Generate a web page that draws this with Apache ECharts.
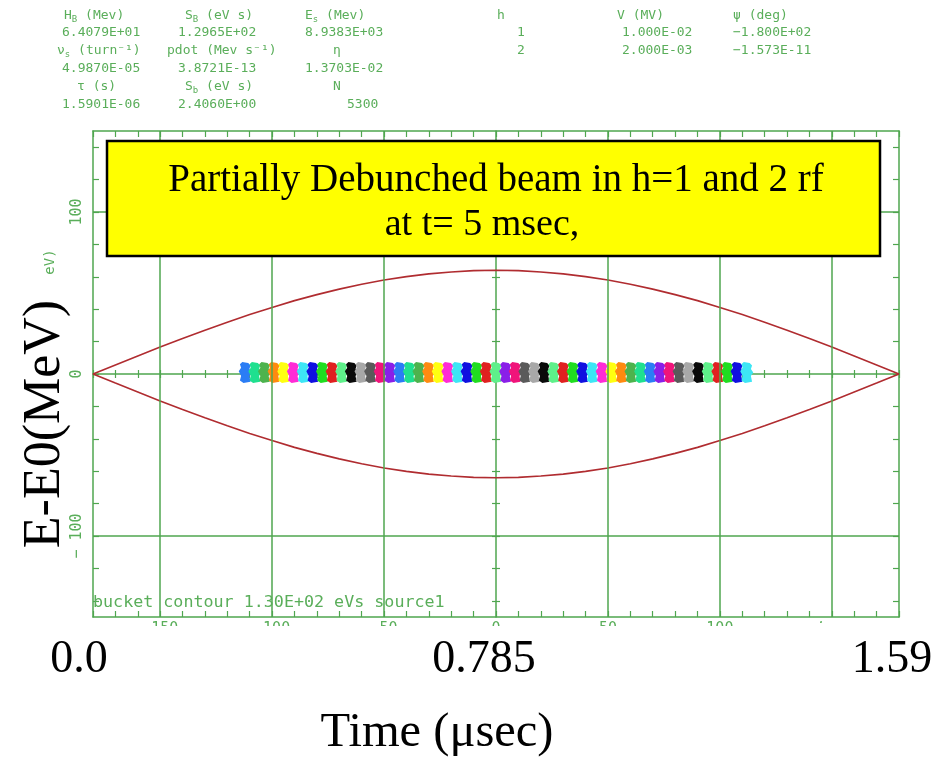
<!DOCTYPE html>
<html>
<head>
<meta charset="utf-8">
<script src="https://cdn.jsdelivr.net/npm/echarts@6/dist/echarts.min.js"></script>
<style>
  html, body { margin: 0; padding: 0; background: #fff; }
  #chart { width: 933px; height: 759px; }
</style>
</head>
<body>
<div id="chart"></div>
<script>
// bucket contour (phase in deg, dE in MeV)
var bucketPhase = [-180, -170, -160, -150, -140, -130, -120, -110, -100, -90, -80, -70, -60, -50, -40, -30, -20, -10, 0,
  10, 20, 30, 40, 50, 60, 70, 80, 90, 100, 110, 120, 130, 140, 150, 160, 170, 180];
var bucketUpper = [0, 5.6, 11.1, 16.6, 21.9, 27, 32, 36.7, 41.1, 45.3, 49, 52.4, 55.4, 58, 60.1, 61.8, 63, 63.8, 64,
  63.8, 63, 61.8, 60.1, 58, 55.4, 52.4, 49, 45.3, 41.1, 36.7, 32, 27, 21.9, 16.6, 11.1, 5.6, 0];
var bucketLower = [0, -5.6, -11.1, -16.6, -21.9, -27, -32, -36.7, -41.1, -45.3, -49, -52.4, -55.4, -58, -60.1, -61.8, -63, -63.8, -64,
  -63.8, -63, -61.8, -60.1, -58, -55.4, -52.4, -49, -45.3, -41.1, -36.7, -32, -27, -21.9, -16.6, -11.1, -5.6, 0];

// beamlet centres along the bunch and their colours
var beamPhase = [-112, -107.7, -103.4, -99.1, -94.8, -90.5, -86.1, -81.8, -77.5, -73.2, -68.9, -64.6, -60.3, -56, -51.7,
  -47.4, -43, -38.7, -34.4, -30.1, -25.8, -21.5, -17.2, -12.9, -8.6, -4.3, 0, 4.3, 8.6, 12.9, 17.2, 21.5, 25.8, 30.1,
  34.4, 38.7, 43, 47.4, 51.7, 56, 60.3, 64.6, 68.9, 73.2, 77.5, 81.8, 86.1, 90.5, 94.8, 99.1, 103.4, 107.7, 112];
var beamDE = 1;
var beamColors = [
  '#2b7df5', '#1fe08f', '#4db34d', '#ff8a10', '#ffff10', '#ff2bd6', '#3de6f5', '#1010e0', '#20dd20', '#e02020',
  '#5ef08a', '#0a0a0a', '#a8a8a8', '#5a5a5a', '#f0147a', '#8a1fe8', '#2b7df5', '#1fe08f', '#4db34d', '#ff8a10',
  '#ffff10', '#ff2bd6', '#3de6f5', '#1010e0', '#20dd20', '#e02020', '#5ef08a',
  '#8a1fe8', '#f0147a', '#5a5a5a', '#a8a8a8', '#0a0a0a', '#5ef08a', '#e02020', '#20dd20', '#1010e0', '#3de6f5',
  '#ff2bd6', '#ffff10', '#ff8a10', '#4db34d', '#1fe08f', '#2b7df5', '#8a1fe8', '#f0147a', '#5a5a5a', '#a8a8a8',
  '#0a0a0a', '#5ef08a', '#e02020', '#20dd20', '#1010e0', '#3de6f5'];

var xLabels = [-150, -100, -50, 0, 50, 100, 150];
var yLabels = [-100, 0, 100];
var yTicks = [-140, -120, -100, -80, -60, -40, -20, 0, 20, 40, 60, 80, 100, 120, 140];
var gridX = [-150, -100, -50, 50, 100, 150];
var gridY = [-100, 100];

var green = '#4fa64f';
var textGreen = '#5aae5a';
var mono = 'DejaVu Sans Mono';
var serif = 'Liberation Serif';

// header table: [x, y, rich text]
var header = [
  [64, 16, 'H{s|B} (Mev)'], [185, 16, 'S{s|B} (eV s)'], [305, 16, 'E{s|s} (Mev)'],
  [62, 33, '6.4079E+01'], [178, 33, '1.2965E+02'], [305, 33, '8.9383E+03'],
  [57, 51, 'ν{s|s} (turn⁻¹)'], [167, 51, 'pdot (Mev s⁻¹)'], [333, 51, 'η'],
  [62, 69, '4.9870E-05'], [178, 69, '3.8721E-13'], [305, 69, '1.3703E-02'],
  [77, 87, 'τ (s)'], [185, 87, 'S{s|b} (eV s)'], [333, 87, 'N'],
  [62, 105, '1.5901E-06'], [178, 105, '2.4060E+00'], [347, 105, '5300'],
  [497, 16, 'h'], [617, 16, 'V (MV)'], [733, 16, 'ψ (deg)'],
  [517, 33, '1'], [622, 33, '1.000E-02'], [733, 33, '−1.800E+02'],
  [517, 51, '2'], [622, 51, '2.000E-03'], [733, 51, '−1.573E-11']
];

var chart = echarts.init(document.getElementById('chart'));

var graphics = header.map(function (h) {
  return {
    type: 'text', x: h[0], y: h[1], z: 100,
    style: {
      text: h[2], fill: textGreen, font: '13px "' + mono + '"', verticalAlign: 'middle',
      rich: { s: { fontSize: 9, fill: textGreen, fontFamily: mono, padding: [8, 0, 0, 0] } }
    }
  };
});

graphics.push(
  { type: 'rect', z: 100, shape: { x: 107, y: 141, width: 773, height: 115 },
    style: { fill: '#ffff00', stroke: '#000', lineWidth: 2.5 } },
  { type: 'text', z: 101, x: 496, y: 181,
    style: { text: 'Partially Debunched beam in h=1 and 2 rf', font: '39px "' + serif + '"', fill: '#000', align: 'center', verticalAlign: 'middle' } },
  { type: 'text', z: 101, x: 482, y: 225,
    style: { text: 'at t= 5 msec,', font: '38px "' + serif + '"', fill: '#000', align: 'center', verticalAlign: 'middle' } },
  { type: 'text', z: 100, x: 93, y: 603,
    style: { text: 'bucket contour 1.30E+02 eVs source1', font: '16.7px "' + mono + '"', fill: textGreen, verticalAlign: 'middle' } },
  { type: 'text', z: 100, x: 50, y: 262, rotation: Math.PI / 2,
    style: { text: 'eV)', font: '14px "' + mono + '"', fill: textGreen, align: 'center', verticalAlign: 'middle' } },
  // white overlay hiding the lower part of the original tick labels
  { type: 'rect', z: 100, shape: { x: 0, y: 626, width: 933, height: 133 }, style: { fill: '#fff' } },
  { type: 'rect', z: 100, shape: { x: 822, y: 619, width: 111, height: 10 }, style: { fill: '#fff' } },
  { type: 'text', z: 101, x: 45, y: 424, rotation: Math.PI / 2,
    style: { text: 'E-E0(MeV)', font: '52px "' + serif + '"', fill: '#000', align: 'center', verticalAlign: 'middle' } },
  { type: 'text', z: 101, x: 79, y: 660,
    style: { text: '0.0', font: '46px "' + serif + '"', fill: '#000', align: 'center', verticalAlign: 'middle' } },
  { type: 'text', z: 101, x: 484, y: 660,
    style: { text: '0.785', font: '46px "' + serif + '"', fill: '#000', align: 'center', verticalAlign: 'middle' } },
  { type: 'text', z: 101, x: 892, y: 660,
    style: { text: '1.59', font: '46px "' + serif + '"', fill: '#000', align: 'center', verticalAlign: 'middle' } },
  { type: 'text', z: 101, x: 437, y: 733,
    style: { text: 'Time (μsec)', font: '48.5px "' + serif + '"', fill: '#000', align: 'center', verticalAlign: 'middle' } }
);

function xAx(extra) {
  return Object.assign({
    type: 'value', min: -180, max: 180, interval: 10,
    splitLine: { show: false },
    axisLine: { lineStyle: { color: green, width: 1.5 } },
    axisTick: { inside: true, length: 6, lineStyle: { color: green, width: 1.2 } },
    axisLabel: { show: false }
  }, extra);
}
function yAx(extra) {
  return Object.assign({
    type: 'value', min: -150, max: 150,
    splitLine: { show: false },
    axisLine: { lineStyle: { color: green, width: 1.5 } },
    axisTick: { customValues: yTicks, inside: true, length: 6, lineStyle: { color: green, width: 1.2 } },
    axisLabel: { show: false }
  }, extra);
}

var option = {
  animation: false,
  backgroundColor: '#fff',
  grid: { left: 93, top: 131, width: 806, height: 486, containLabel: false, outerBoundsMode: 'none' },
  xAxis: [
    xAx({ position: 'bottom', axisLine: { onZero: false, lineStyle: { color: green, width: 1.5 } },
      axisLabel: { show: true, customValues: xLabels, color: textGreen, fontFamily: mono, fontSize: 15, margin: 5,
        formatter: function (v) { return v < 0 ? '−' + (-v) : String(v); } } }),
    xAx({ position: 'top', axisLine: { onZero: false, lineStyle: { color: green, width: 1.5 } } }),
    xAx({ position: 'bottom', axisLine: { onZero: true, onZeroAxisIndex: 0, lineStyle: { color: green, width: 1.5 } },
      axisTick: { inside: true, length: 4, lineStyle: { color: green, width: 1.2 } } }),
    xAx({ position: 'bottom', axisLine: { show: false, onZero: true, onZeroAxisIndex: 0 },
      axisTick: { inside: false, length: 4, lineStyle: { color: green, width: 1.2 } } })
  ],
  yAxis: [
    yAx({ position: 'left', axisLine: { onZero: false, lineStyle: { color: green, width: 1.5 } },
      axisLabel: { show: true, customValues: yLabels, rotate: 90, color: textGreen, fontFamily: mono, fontSize: 15, margin: 8,
        formatter: function (v) { return v < 0 ? '− ' + (-v) : String(v); } } }),
    yAx({ position: 'right', axisLine: { onZero: false, lineStyle: { color: green, width: 1.5 } } }),
    yAx({ position: 'left', axisLine: { onZero: true, onZeroAxisIndex: 0, lineStyle: { color: green, width: 1.5 } },
      axisTick: { customValues: yTicks, inside: true, length: 4, lineStyle: { color: green, width: 1.2 } } }),
    yAx({ position: 'left', axisLine: { show: false, onZero: true, onZeroAxisIndex: 0 },
      axisTick: { customValues: yTicks, inside: false, length: 4, lineStyle: { color: green, width: 1.2 } } })
  ],
  graphic: graphics,
  series: [
    {
      type: 'line', z: 1, data: [], silent: true,
      markLine: {
        silent: true, symbol: 'none', label: { show: false },
        lineStyle: { color: green, width: 1.5, type: 'solid' },
        data: gridX.map(function (v) { return { xAxis: v }; }).concat(gridY.map(function (v) { return { yAxis: v }; }))
      }
    },
    {
      type: 'line', z: 3, showSymbol: false, silent: true,
      lineStyle: { color: '#b02c30', width: 1.6 },
      data: bucketPhase.map(function (p, i) { return [p, bucketUpper[i]]; })
    },
    {
      type: 'line', z: 3, showSymbol: false, silent: true,
      lineStyle: { color: '#b02c30', width: 1.6 },
      data: bucketPhase.map(function (p, i) { return [p, bucketLower[i]]; })
    },
    {
      type: 'scatter', z: 4, silent: true,
      symbol: 'path://M3,0 L8,1 L10,3 L9,6 L11,9 L9,12 L10,17 L4,18 L1,16 L2,12 L0,8 L2,5 L1,2 Z',
      symbolSize: [13, 21],
      data: beamPhase.map(function (p, i) {
        return { value: [p, beamDE], itemStyle: { color: beamColors[i], opacity: 1 } };
      })
    }
  ]
};

chart.setOption(option);
</script>
</body>
</html>
